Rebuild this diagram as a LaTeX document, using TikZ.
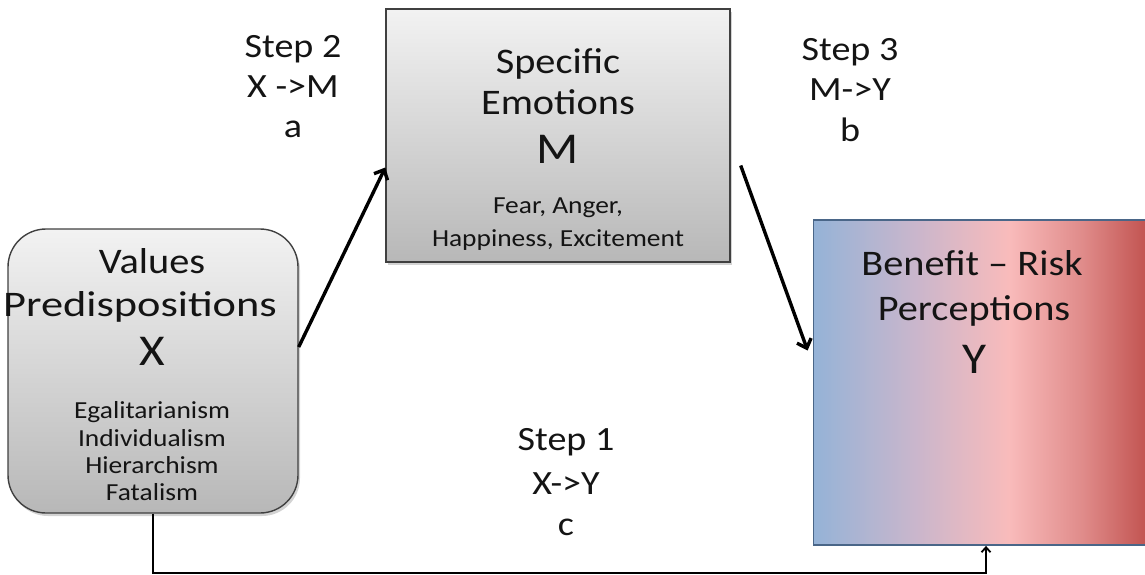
\documentclass[tikz,border=0pt]{standalone}
\usepackage{fontspec}
\setmainfont{Carlito}[FakeStretch=1.12]
\usetikzlibrary{arrows.meta,shadows}
\definecolor{txt}{HTML}{141414}
\definecolor{bluea}{HTML}{95B3D7}
\definecolor{purpa}{HTML}{C9B6CC}
\definecolor{pinka}{HTML}{F9BBBB}
\definecolor{reda}{HTML}{C0504D}
\definecolor{ybord}{HTML}{4A6688}
\pgfdeclarehorizontalshading{brshade}{100bp}{color(0bp)=(bluea); color(25bp)=(bluea); color(40bp)=(purpa); color(54bp)=(pinka); color(65bp)=(pinka!55!reda); color(75bp)=(reda); color(100bp)=(reda)}
\tikzset{
  boxbase/.style={draw=black!75, line width=1.4pt, inner sep=0pt},
  graybox/.style={boxbase, top color=black!5, bottom color=black!28,
    drop shadow={opacity=0.35, shadow xshift=2pt, shadow yshift=-3pt}},
  ybox/.style={draw=ybord, line width=1.8pt, shading=brshade, inner sep=0pt},
  tl/.style={anchor=base, text=txt, inner sep=0pt, font=\fontsize{34}{40}\selectfont},
  tbx/.style={anchor=base, text=txt, inner sep=0pt, font=\fontsize{36}{42}\selectfont},
  tbig/.style={anchor=base, text=txt, inner sep=0pt, font=\fontsize{44}{50}\selectfont},
  tsm/.style={anchor=base, text=txt, inner sep=0pt, font=\fontsize{24.5}{28}\selectfont},
  thick arrow/.style={line width=3.4pt, -{Straight Barb[length=8pt,width=15pt]}},
  thin arrow/.style={line width=1.8pt, -{Straight Barb[length=5pt,width=9pt]}}
}
\begin{document}
\begin{tikzpicture}[x=1pt,y=-1pt]
\useasboundingbox (0,0) rectangle (1145,574);
% boxes
\node[graybox, rounded corners=38pt, minimum width=290pt, minimum height=284pt] (X) at (153,371) {};
\node[graybox, minimum width=344pt, minimum height=253pt] (M) at (558,135.5) {};
\node[ybox, minimum width=337pt, minimum height=325pt] (Y) at (982,382.5) {};
% left box text
\node[tbx] (x1) at (152,273) {Values};
\node[tbx] (x2) at (140,316) {\scalebox{1.1}[1]{Predispositions}};
\node[tbig] (x3) at (152,365) {X};
\node[tsm] (x4) at (152,418) {Egalitarianism};
\node[tsm] (x5) at (152,446) {Individualism};
\node[tsm] (x6) at (152,473) {Hierarchism};
\node[tsm] (x7) at (152,500) {Fatalism};
% top box text
\node[tbx] (m1) at (558,73) {Specific};
\node[tbx] (m2) at (558,114) {Emotions};
\node[tbig] (m3) at (558,163) {M};
\node[tsm] (m4) at (558,213) {Fear, Anger,};
\node[tsm] (m5) at (558,246) {Happiness, Excitement};
% right box text
\node[tbx] (y1) at (972,275) {Benefit – Risk};
\node[tbx] (y2) at (974,320) {Perceptions};
\node[tbig] (y3) at (974,373) {Y};
% step labels
\node[tl] (s21) at (293,57) {Step 2};
\node[tl] (s22) at (293,97) {X ->M};
\node[tl] (s23) at (293,137) {a};
\node[tl] (s31) at (850,60) {Step 3};
\node[tl] (s32) at (850,100) {M->Y};
\node[tl] (s33) at (850,141) {b};
\node[tl] (s11) at (566,450) {Step 1};
\node[tl] (s12) at (566,494) {X->Y};
\node[tl] (s13) at (566,535) {c};
% connectors
\draw[thick arrow] ([yshift=24pt]X.east) -- ([yshift=-32pt]M.west);
\draw[thick arrow] ([xshift=10pt,yshift=-30pt]M.east) -- ([xshift=-5pt,yshift=32pt]Y.west);
\draw[thin arrow] (X.south) -- ++(0,59) -| ([xshift=4pt]Y.south);
\end{tikzpicture}
\end{document}
